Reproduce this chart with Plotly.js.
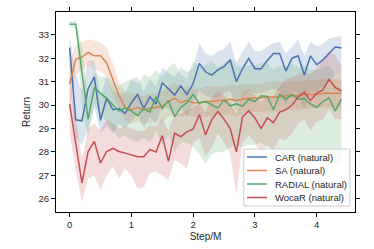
<!DOCTYPE html>
<html><head><meta charset="utf-8">
<script src="https://cdn.plot.ly/plotly-3.0.1.min.js"></script>
<style>html,body{margin:0;padding:0;background:#fff}#chart{width:374px;height:249px}</style>
</head><body><div id="chart"></div>
<script>
const steps = [0,0.1,0.2,0.3,0.4,0.5,0.6,0.7,0.8,0.9,1.0,1.1,1.2,1.3,1.4,1.5,1.6,1.7,1.8,1.9,2.0,2.1,2.2,2.3,2.4,2.5,2.6,2.7,2.8,2.9,3.0,3.1,3.2,3.3,3.4,3.5,3.6,3.7,3.8,3.9,4.0,4.1,4.2,4.3,4.4];
const seriesNames = ["CAR (natural)","SA (natural)","RADIAL (natural)","WocaR (natural)"];
const xTicks = [0,1,2,3,4];
const yTicks = [26,27,28,29,30,31,32,33];

const carMean = [32.45,29.37,29.33,30.7,31.2,29.35,30.3,29.8,29.85,29.65,30.1,30.45,29.85,30.35,30.05,30.95,30.7,30.43,30.82,30.45,30.92,31.78,31.42,31.28,31.5,31.64,31.92,31.0,31.56,31.99,31.55,31.55,31.9,32.2,32.2,31.45,32.0,32.1,31.28,32.1,31.72,31.93,32.2,32.48,32.43];
const carLo   = [31.1,28.6,28.3,29.0,29.9,28.8,29.1,28.8,29.2,29.0,29.3,29.6,29.0,29.5,29.2,30.0,29.8,29.6,29.9,29.5,30.0,30.6,30.4,30.3,30.3,30.5,30.6,29.8,30.3,30.6,30.5,30.5,30.6,30.7,30.6,30.0,30.6,30.5,29.8,30.6,30.5,30.8,31.0,31.3,31.45];
const carHi   = [32.95,31.3,30.6,31.9,31.9,30.4,31.2,30.6,30.5,30.5,31.1,31.2,30.6,31.1,30.8,31.6,31.4,31.2,31.6,31.4,31.6,32.65,32.2,32.1,32.3,32.4,32.7,31.8,32.3,32.7,32.3,32.3,32.5,32.65,32.7,32.2,32.5,32.8,32.1,32.7,32.5,32.6,32.85,32.9,32.95];

const saMean = [30.9,31.95,32.05,32.25,32.1,32.1,31.8,31.1,30.4,29.9,29.8,29.9,29.8,29.85,29.9,29.95,30.15,30.3,30.1,30.2,30.1,30.1,30.15,30.15,30.2,30.2,30.25,30.2,30.25,30.3,30.3,30.3,30.35,30.35,30.35,30.4,30.4,30.4,30.45,30.45,30.45,30.5,30.5,30.5,30.5];
const saLo   = [29.9,31.3,31.5,31.7,31.5,31.45,31.2,30.4,29.8,29.3,29.2,29.3,29.2,29.2,29.3,29.3,29.5,29.6,29.5,29.6,29.5,29.5,29.5,29.5,29.6,29.6,29.6,29.5,29.6,29.7,29.7,29.7,29.75,29.7,29.75,29.8,29.8,29.8,29.85,29.85,29.85,29.9,29.9,29.9,29.9];
const saHi   = [31.9,32.55,32.7,32.8,32.75,32.65,32.45,31.8,31.0,30.6,30.5,30.5,30.4,30.5,30.5,30.6,30.8,31.0,30.7,30.8,30.7,30.7,30.8,30.8,30.8,30.8,30.9,30.8,30.9,30.9,30.9,30.9,31.0,31.0,31.0,31.0,31.0,31.0,31.05,31.05,31.05,31.1,31.1,31.1,31.1];

const radialMean = [33.45,33.45,31.4,29.4,30.75,30.5,30.3,30.0,29.75,29.87,29.75,29.55,29.85,29.7,30.35,29.85,30.2,29.5,29.9,30.1,30.45,30.08,30.15,30.0,29.87,30.22,29.97,30.05,29.95,30.25,30.15,30.4,30.37,29.8,30.45,30.25,30.45,30.25,30.27,30.05,29.9,30.15,30.3,29.75,30.25];
const radialLo   = [33.3,33.3,30.0,28.6,30.0,29.6,29.3,28.9,28.6,28.7,28.5,28.4,28.6,28.4,28.9,28.3,28.7,28.0,28.4,28.4,28.2,27.9,27.5,27.9,28.0,28.0,28.2,28.3,28.2,28.3,28.3,28.4,28.2,27.9,28.0,27.8,27.9,27.8,27.7,27.6,27.6,27.5,27.6,27.5,27.5];
const radialHi   = [33.6,33.6,32.5,30.3,31.4,31.2,31.2,31.0,30.8,31.0,31.1,30.9,31.3,31.2,31.5,31.2,31.6,31.8,31.3,31.1,31.9,31.6,31.7,31.9,31.6,31.8,32.0,31.7,31.6,31.7,31.7,31.8,31.8,31.5,31.7,31.6,31.8,31.6,31.7,31.5,31.5,31.6,31.7,31.3,31.45];

const wocarMean = [30.05,28.35,26.67,28.02,28.45,27.53,28.02,28.16,28.02,27.95,27.88,27.8,27.8,28.1,28.0,28.7,27.6,28.8,28.65,28.87,28.97,29.6,28.73,29.37,29.73,29.4,29.0,28.0,29.5,29.75,29.45,29.0,29.45,29.25,29.7,29.8,30.0,30.35,30.55,30.2,30.5,30.65,31.1,30.75,30.6];
const wocarLo   = [28.8,27.2,25.88,26.88,27.0,26.38,27.0,27.38,26.88,27.3,27.0,26.45,26.5,27.1,27.16,27.0,26.8,27.66,27.5,27.3,28.39,28.6,27.8,28.16,28.8,28.4,27.9,26.2,28.4,28.7,28.4,27.9,28.3,28.1,28.6,28.5,28.8,29.2,29.4,28.9,29.3,29.4,29.8,29.4,29.4];
const wocarHi   = [31.0,29.5,27.7,29.0,29.2,28.9,29.4,29.2,29.0,29.1,29.0,28.9,28.9,29.15,29.1,29.45,28.9,29.65,29.6,29.8,29.9,30.1,29.7,30.3,30.6,30.4,30.1,29.6,30.5,30.7,30.4,30.1,30.4,30.37,30.8,31.1,31.2,31.3,31.4,31.3,31.6,31.9,32.3,32.1,31.7];

const colors = ["#4c72b0","#dd8452","#55a868","#c44e52"];
const fills = ["rgba(76,114,176,0.2)","rgba(221,132,82,0.2)","rgba(85,168,104,0.2)","rgba(196,78,82,0.2)"];
const means = [carMean, saMean, radialMean, wocarMean];
const los = [carLo, saLo, radialLo, wocarLo];
const his = [carHi, saHi, radialHi, wocarHi];

const traces = [];
for (let i = 0; i < 4; i++) {
  traces.push({x: steps, y: los[i], type: "scatter", mode: "lines", line: {width: 0, color: colors[i]}, showlegend: false, hoverinfo: "skip"});
  traces.push({x: steps, y: his[i], type: "scatter", mode: "lines", line: {width: 0, color: colors[i]}, fill: "tonexty", fillcolor: fills[i], showlegend: false, hoverinfo: "skip"});
}
for (let i = 0; i < 4; i++) {
  traces.push({x: steps, y: means[i], type: "scatter", mode: "lines", name: seriesNames[i], line: {width: 1.5, color: colors[i]}, showlegend: false});
}

const fontFam = "Liberation Sans, Arial, sans-serif";
const txtColor = "#262626";

// Compact legend (matplotlib style) built from shapes + annotations in paper coords
const shapes = [{type: "rect", xref: "paper", yref: "paper", x0: 0.628, x1: 0.983, y0: 0.03, y1: 0.315,
  line: {color: "#cccccc", width: 1}, fillcolor: "rgba(255,255,255,0.8)", layer: "above"}];
const annotations = [];
const entryY = [0.275, 0.2075, 0.14, 0.0725];
for (let i = 0; i < 4; i++) {
  shapes.push({type: "line", xref: "paper", yref: "paper", x0: 0.639, x1: 0.706, y0: entryY[i], y1: entryY[i],
    line: {color: colors[i], width: 1.5}, layer: "above"});
  annotations.push({xref: "paper", yref: "paper", x: 0.727, y: entryY[i], xanchor: "left", yanchor: "middle",
    text: seriesNames[i], showarrow: false, font: {family: fontFam, size: 9.5, color: txtColor}});
}

const axisCommon = {
  showline: true, linecolor: "#000", linewidth: 1, mirror: "ticks",
  ticks: "outside", ticklen: 4, tickwidth: 1, tickcolor: "#000",
  showgrid: false, zeroline: false,
  tickfont: {family: fontFam, size: 9.5, color: txtColor}
};
const layout = {
  width: 374, height: 249,
  margin: {l: 56, r: 19, t: 12, b: 37},
  paper_bgcolor: "#fff", plot_bgcolor: "#fff",
  font: {family: fontFam, color: txtColor},
  xaxis: Object.assign({}, axisCommon, {range: [-0.22, 4.62], tickvals: xTicks, ticktext: xTicks.map(String),
    title: {text: "Step/M", font: {family: fontFam, size: 10, color: txtColor}, standoff: 3}}),
  yaxis: Object.assign({}, axisCommon, {range: [25.44, 33.97], tickvals: yTicks, ticktext: yTicks.map(String),
    title: {text: "Return", font: {family: fontFam, size: 10, color: txtColor}, standoff: 6}}),
  shapes: shapes,
  annotations: annotations,
  showlegend: false
};
Plotly.newPlot("chart", traces, layout, {staticPlot: true, displayModeBar: false});
</script></body></html>
